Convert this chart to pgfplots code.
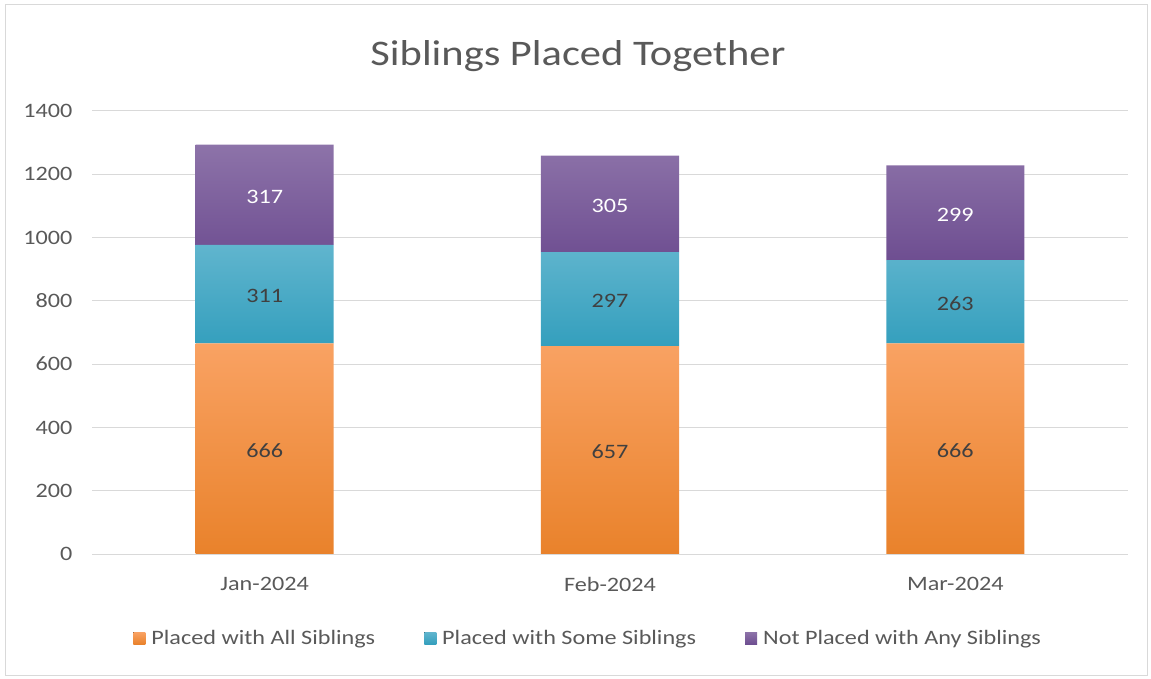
\documentclass[border=0pt]{standalone}
\usepackage{fontspec}
\setmainfont{Carlito}[FakeStretch=1.18]
\usepackage{pgfplots}
\pgfplotsset{compat=1.18}
\usepackage{pgfplotstable}

\definecolor{txt}{HTML}{595959}
\definecolor{lab}{HTML}{404040}
\definecolor{gridc}{HTML}{D9D9D9}
\definecolor{orT}{HTML}{F9A263}
\definecolor{orB}{HTML}{E9822B}
\definecolor{tlT}{HTML}{60B5CE}
\definecolor{tlB}{HTML}{349FBD}
\definecolor{puT}{HTML}{8D73A9}
\definecolor{puB}{HTML}{6E4E91}

\pgfplotstableread{
x a b c
0 666 311 317
1 657 297 305
2 666 263 299
}\data

\pgfplotsset{
  seglabel/.style={
    nodes near coords, point meta=explicit,
    every node near coord/.append style={anchor=center, yshift=-2bp,
      font=\fontsize{20.5bp}{24bp}\selectfont},
  },
}

\begin{document}
\begin{tikzpicture}
\useasboundingbox (0,0) rectangle (1151bp,679bp);
\draw[gridc, line width=1bp] (5bp,3bp) rectangle (1147bp,674bp);
\node[text=txt, font=\fontsize{36bp}{42bp}\selectfont] at (578bp,623bp) {Siblings Placed Together};
\begin{axis}[
  at={(92bp,125bp)}, anchor=south west,
  scale only axis, width=1036bp, height=443bp,
  ybar stacked, bar width=0.4,
  xmin=-0.5, xmax=2.5, ymin=0, ymax=1400,
  xtick=data, xticklabels={Jan-2024,Feb-2024,Mar-2024},
  ytick={0,200,...,1400},
  axis line style={draw=none},
  major tick length=0pt,
  ymajorgrids, grid style={gridc, line width=1bp},
  tick label style={text=txt, font=\fontsize{20.5bp}{24bp}\selectfont},
  /pgf/number format/assume math mode=true,
  /pgf/number format/1000 sep={},
  yticklabel style={xshift=-16bp},
  xticklabel style={yshift=-20bp},
  legend style={at={(0.479,-0.19)}, anchor=center, draw=none, fill=none,
    legend columns=3, font=\fontsize{20.5bp}{24bp}\selectfont, text=txt,
    /tikz/every odd column/.append style={column sep=4bp},
    /tikz/every even column/.append style={column sep=47bp}},
  legend image code/.code={\fill[#1] (0bp,-6bp) rectangle (12bp,6bp);},
]
\addplot[draw=none, top color=orT, bottom color=orB, seglabel,
  every node near coord/.append style={text=lab}]
  table[x=x, y=a, meta=a] {\data};
\addplot[draw=none, top color=tlT, bottom color=tlB, seglabel,
  every node near coord/.append style={text=lab}]
  table[x=x, y=b, meta=b] {\data};
\addplot[draw=none, top color=puT, bottom color=puB, seglabel,
  every node near coord/.append style={text=white}]
  table[x=x, y=c, meta=c] {\data};
\legend{Placed with All Siblings, Placed with Some Siblings, Not Placed with Any Siblings}
\end{axis}
\end{tikzpicture}
\end{document}
